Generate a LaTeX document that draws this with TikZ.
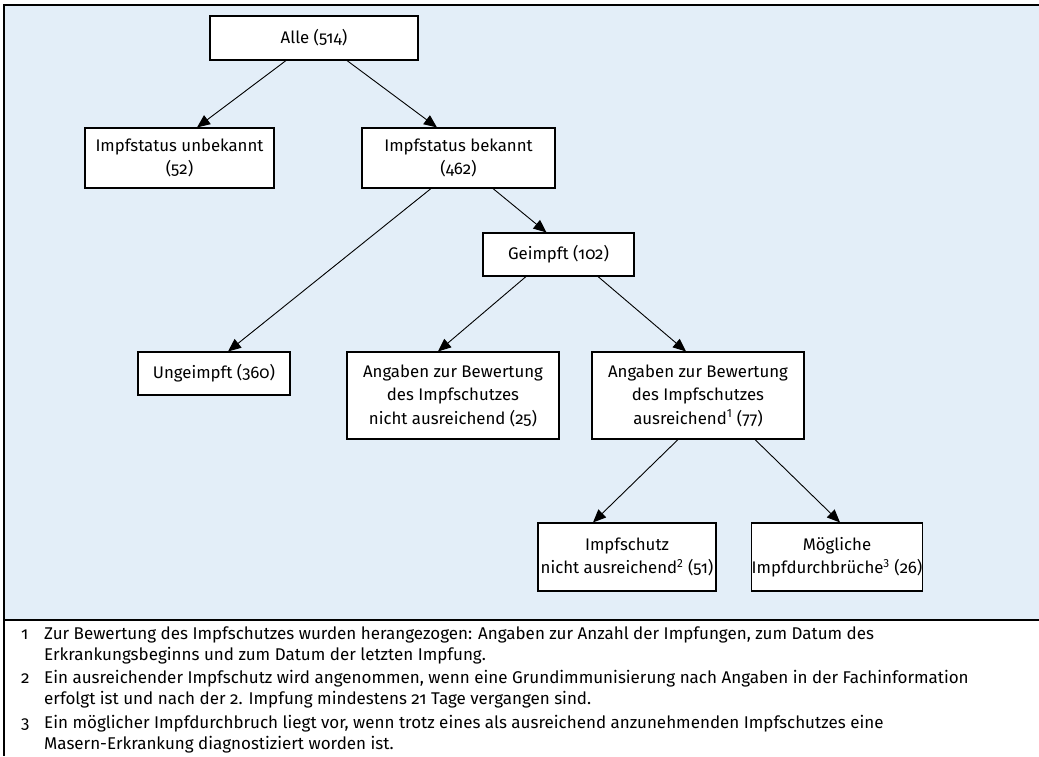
\documentclass[tikz,border=0pt]{standalone}
\usepackage{fontspec}
\setmainfont{Fira Sans}[Numbers=OldStyle]
\usetikzlibrary{arrows.meta}
\definecolor{panelblue}{RGB}{227,238,248}
\newcommand{\fnmark}[1]{\textsuperscript{\addfontfeature{Numbers=Lining}#1}}
\newcommand{\fnpar}[1]{\parbox[t]{990pt}{\raggedright #1}}
\tikzset{
  box/.style={draw=black, line width=1.1pt, fill=white, align=center,
    inner sep=0pt, font=\fontsize{16.8}{23.5}\selectfont},
  link/.style={draw=black, line width=0.9pt, -{Triangle[length=13pt,width=11pt]}},
  fnnum/.style={anchor=base west, inner sep=0pt, font=\fontsize{17}{21}\selectfont},
  fntext/.style={anchor=base west, inner sep=0pt,
    font=\fontsize{17}{21}\selectfont},
}
\begin{document}
\begin{tikzpicture}[x=1pt, y=-1pt]
\useasboundingbox (0,0) rectangle (1039,756);
% panels
\fill[panelblue] (4,5) rectangle (1039,620);
\draw[line width=1.6pt] (1039,5) -- (4,5) -- (4,756);
\draw[line width=1.4pt] (4,620) -- (1039,620);

% tree
\node[box, minimum width=208pt, minimum height=44pt] (alle) at (314,38) {Alle (514)};
\node[box, minimum width=189pt, minimum height=60pt] (unb) at (179.5,158) {Impfstatus unbekannt\\(52)};
\node[box, minimum width=193pt, minimum height=60pt] (bek) at (458.5,158) {Impfstatus bekannt\\(462)};
\node[box, minimum width=151pt, minimum height=43pt] (gei) at (558.5,254.5) {Geimpft (102)};
\node[box, minimum width=152pt, minimum height=43pt] (ung) at (214,373.5) {Ungeimpft (360)};
\node[box, minimum width=212pt, minimum height=87pt] (ang1) at (453,395.5)
  {Angaben zur Bewertung\\des Impfschutzes\\nicht ausreichend (25)};
\node[box, minimum width=212pt, minimum height=87pt] (ang2) at (698,395.5)
  {Angaben zur Bewertung\\des Impfschutzes\\ausreichend\fnmark{1} (77)};
\node[box, minimum width=178pt, minimum height=68pt] (isch) at (627,557)
  {Impfschutz\\nicht ausreichend\fnmark{2} (51)};
\node[box, minimum width=166pt, minimum height=68pt] (moeg) at (837,557)
  {Mögliche\\Impfdurchbrüche\fnmark{3} (26)};

\path[link] ([xshift=-28pt]alle.south) -- ([xshift=17.5pt]unb.north);
\path[link] ([xshift=33pt]alle.south) -- ([xshift=-21.5pt]bek.north);
\path[link] ([xshift=34.5pt]bek.south) -- ([xshift=-12pt]gei.north);
\path[link] ([xshift=-27.5pt]bek.south) -- ([xshift=14pt]ung.north);
\path[link] ([xshift=-32.5pt]gei.south) -- ([xshift=-15pt]ang1.north);
\path[link] ([xshift=39.5pt]gei.south) -- ([xshift=-12pt]ang2.north);
\path[link] ([xshift=-20pt]ang2.south) -- ([xshift=-34pt]isch.north);
\path[link] ([xshift=57pt]ang2.south) -- ([xshift=3pt]moeg.north);

% footnotes
\node[fnnum] (n1) at (21,639) {1};
\node[fntext] (f1) at (44,639) {\fnpar{Zur Bewertung des Impfschutzes wurden herangezogen: Angaben zur Anzahl der Impfungen, zum Datum des\\Erkrankungsbeginns und zum Datum der letzten Impfung.}};
\node[fnnum] (n2) at (21,683) {2};
\node[fntext] (f2) at (44,683) {\fnpar{Ein ausreichender Impfschutz wird angenommen, wenn eine Grundimmunisierung nach Angaben in der Fachinformation\\erfolgt ist und nach der 2. Impfung mindestens 21 Tage vergangen sind.}};
\node[fnnum] (n3) at (21,728) {3};
\node[fntext] (f3) at (44,728) {\fnpar{Ein möglicher Impfdurchbruch liegt vor, wenn trotz eines als ausreichend anzunehmenden Impfschutzes eine\\Masern-Erkrankung diagnostiziert worden ist.}};
\end{tikzpicture}
\end{document}
